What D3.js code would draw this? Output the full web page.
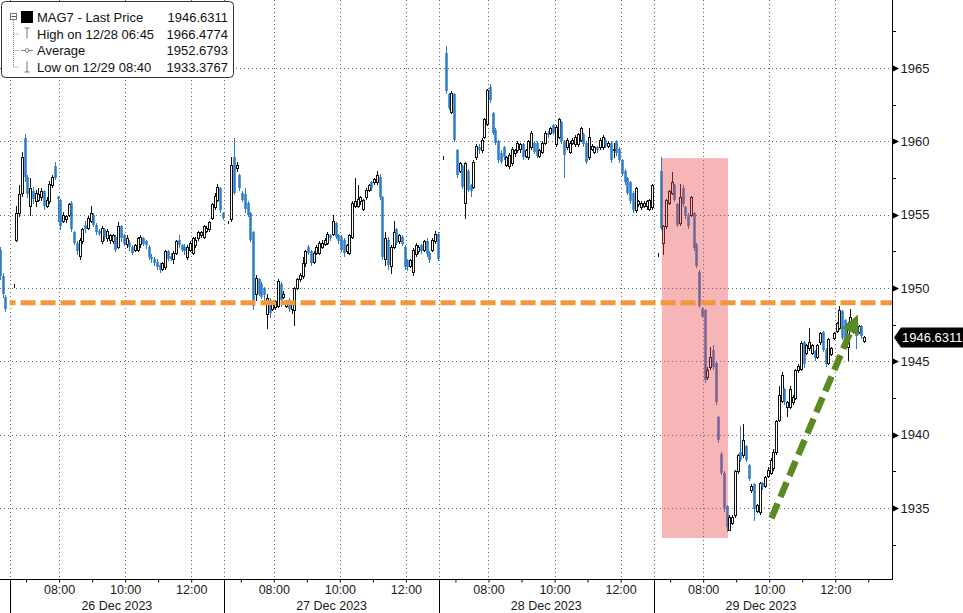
<!DOCTYPE html>
<html><head><meta charset="utf-8">
<script src="https://cdn.jsdelivr.net/npm/d3@7"></script>
<style>
html,body{margin:0;padding:0;background:#fff;}
svg{display:block;font-family:"Liberation Sans",Arial,sans-serif;}
</style></head><body>
<svg id="chart" width="963" height="613"></svg>
<script>
// ---------------- DATA ----------------
const dayLabels = ["26 Dec 2023", "27 Dec 2023", "28 Dec 2023", "29 Dec 2023"];
const hourTicks = ["07:00", "08:00", "09:00", "10:00", "11:00", "12:00", "13:00"];
const hourLabels = ["08:00", "10:00", "12:00"];
const gridHours = ["08:00", "10:00", "12:00"];
const sessionOpen = "06:30";
const barMinutes = 5;
const yTickValues = [1935, 1940, 1945, 1950, 1955, 1960, 1965];
const yMinorValues = [1932.5, 1937.5, 1942.5, 1947.5, 1952.5, 1957.5, 1962.5, 1967.5];

// tail of 22 Dec session: [open, high, low, close]
const dec22Times = ["12:40", "12:45", "12:50"];
const dec22Bars = [[1952.6,1952.8,1950.6,1950.8],[1950.8,1951.0,1949.4,1949.6],[1949.4,1949.5,1948.4,1948.6]];

// 5-minute bars from 06:30, [open, high, low, close]; null = no bar
const dec26Bars = [null,
[1950.2,1950.3,1950.1,1950.2],[1953.3,1955.6,1953.2,1955.1],[1955.1,1957.0,1954.9,1956.4],[1956.5,1959.3,1956.3,1958.9],
[1960.2,1960.5,1957.3,1957.6],[1957.6,1957.7,1956.2,1956.4],[1955.6,1957.5,1955.0,1956.8],[1956.6,1956.9,1955.8,1956.1],
[1955.9,1956.7,1955.6,1956.5],[1956.0,1956.8,1955.9,1956.4],[1956.2,1956.8,1956.0,1956.6],[1956.6,1956.7,1955.4,1955.6],
[1955.6,1956.2,1955.5,1956.0],[1955.9,1957.3,1955.8,1957.1],[1957.0,1957.7,1956.9,1957.6],[1958.3,1958.6,1957.4,1957.5],
[1956.2,1956.3,1954.6,1956.1],[1956.0,1956.1,1954.0,1954.2],[1954.6,1955.2,1954.5,1955.0],[1954.7,1955.0,1954.5,1954.9],
[1955.0,1955.8,1954.9,1955.7],[1955.8,1955.9,1953.9,1954.0],[1953.8,1953.9,1953.0,1953.1],[1953.1,1953.2,1952.3,1952.5],
[1952.2,1953.4,1952.0,1953.3],[1953.2,1954.1,1953.1,1954.0],[1954.3,1954.6,1953.8,1954.0],[1954.1,1954.9,1954.0,1954.8],
[1954.6,1955.6,1954.5,1955.1],[1955.0,1955.1,1954.2,1954.3],[1954.3,1954.4,1953.7,1953.8],[1953.9,1954.0,1953.6,1953.7],
[1953.2,1954.2,1953.1,1954.1],[1954.0,1954.1,1953.3,1953.5],[1953.4,1954.0,1953.2,1953.9],[1953.3,1953.7,1953.1,1953.6],
[1953.2,1953.7,1953.1,1953.6],[1953.5,1953.6,1952.5,1952.6],[1952.8,1954.5,1952.7,1954.2],[1954.2,1954.3,1953.2,1953.4],
[1953.6,1953.7,1952.9,1953.0],[1953.0,1953.6,1952.8,1953.4],[1953.1,1953.3,1952.6,1952.8],[1952.8,1952.9,1952.3,1952.4],
[1952.6,1953.0,1952.5,1952.9],[1952.6,1953.5,1952.5,1953.4],[1953.0,1953.6,1952.8,1953.5],[1953.4,1953.5,1952.9,1953.0],
[1953.2,1953.3,1952.7,1952.9],[1952.8,1952.9,1952.0,1952.1],[1952.1,1952.3,1951.8,1952.0],[1952.0,1952.1,1951.6,1951.7],
[1951.8,1952.0,1951.3,1951.4],[1951.6,1951.7,1951.1,1951.2],[1951.3,1951.8,1951.2,1951.7],[1951.4,1952.6,1951.3,1952.5],
[1952.5,1952.6,1951.9,1952.0],[1952.2,1952.4,1951.9,1952.0],[1952.0,1952.5,1951.7,1952.4],[1952.4,1953.3,1952.3,1953.2],
[1953.3,1953.6,1952.8,1952.9],[1952.9,1953.0,1952.5,1952.6],[1952.8,1953.0,1952.3,1952.5],[1952.1,1952.9,1952.0,1952.8],
[1952.6,1953.2,1952.5,1953.1],[1952.4,1953.5,1952.3,1953.4],[1952.9,1953.5,1952.8,1953.3],[1953.4,1953.9,1953.3,1953.8],
[1953.6,1953.9,1953.5,1953.8],[1953.5,1954.3,1953.4,1954.2],[1953.9,1954.2,1953.8,1954.1],[1954.0,1954.6,1953.9,1954.5],
[1954.8,1955.8,1954.7,1955.7],[1955.5,1956.5,1955.4,1956.3],[1956.0,1957.1,1955.9,1956.9],[1956.8,1956.9,1955.2,1955.3],
[1955.1,1955.2,1954.7,1954.8]];

const dec27Bars = [null,
[1954.5,1954.6,1954.4,1954.5],[1954.7,1958.9,1954.6,1958.4],[1958.9,1960.2,1956.4,1956.5],[1958.2,1958.6,1958.0,1958.4],
[1957.7,1957.8,1956.7,1956.8],[1956.5,1956.6,1955.9,1956.0],[1956.4,1956.8,1955.2,1955.4],[1955.8,1955.9,1954.9,1955.0],
[1955.1,1955.2,1953.2,1953.3],[1953.8,1953.9,1948.6,1948.8],[1949.6,1950.9,1949.2,1950.7],[1950.6,1950.7,1949.5,1949.6],
[1950.3,1950.4,1949.3,1949.4],[1950.0,1950.1,1948.9,1949.5],[1948.2,1949.6,1947.3,1949.3],[1949.2,1949.3,1948.0,1948.3],
[1948.6,1949.0,1948.5,1948.9],[1948.7,1949.2,1948.6,1949.1],[1948.8,1950.6,1948.7,1950.5],[1950.3,1950.4,1948.8,1949.2],
[1949.4,1949.8,1949.3,1949.6],[1948.8,1949.2,1948.7,1949.1],[1949.2,1949.3,1948.4,1948.6],[1948.6,1949.0,1948.3,1948.9],
[1948.5,1950.1,1947.5,1950.0],[1950.0,1950.7,1949.9,1950.6],[1950.6,1951.0,1950.5,1950.9],[1950.8,1952.1,1950.7,1951.7],
[1951.7,1952.6,1951.5,1952.5],[1952.8,1952.9,1952.3,1952.4],[1952.5,1952.6,1951.6,1951.7],[1951.8,1952.5,1951.7,1952.4],
[1952.4,1952.9,1952.3,1952.8],[1952.4,1953.2,1952.3,1953.1],[1952.8,1953.3,1952.7,1953.1],[1953.0,1953.4,1952.9,1953.3],
[1953.1,1953.8,1953.0,1953.7],[1953.6,1953.7,1953.3,1953.4],[1953.7,1955.0,1953.6,1954.6],[1954.4,1954.5,1953.4,1953.5],
[1953.6,1953.7,1953.1,1953.2],[1953.5,1953.6,1952.5,1952.6],[1953.3,1953.4,1952.2,1952.4],[1952.5,1953.0,1952.4,1952.9],
[1952.4,1953.7,1952.3,1953.6],[1953.5,1955.9,1953.4,1955.8],[1955.6,1957.5,1955.5,1955.9],[1955.6,1957.0,1955.5,1956.1],
[1955.9,1956.3,1955.7,1956.2],[1955.4,1956.1,1955.3,1956.0],[1956.2,1956.8,1956.1,1956.7],[1956.7,1957.1,1956.6,1957.0],
[1957.2,1957.3,1956.7,1956.8],[1957.2,1957.5,1957.1,1957.4],[1957.2,1958.0,1957.1,1957.7],[1957.6,1957.8,1956.1,1956.2],
[1956.2,1956.3,1952.0,1952.1],[1952.0,1953.8,1951.6,1953.4],[1953.3,1953.5,1951.3,1951.6],[1951.5,1952.9,1951.0,1952.8],
[1952.8,1954.6,1952.7,1953.8],[1954.0,1954.1,1953.0,1953.1],[1953.2,1953.7,1953.1,1953.6],[1953.5,1953.6,1952.9,1953.0],
[1952.8,1952.9,1951.3,1951.4],[1951.9,1952.0,1951.2,1951.4],[1951.5,1952.0,1951.4,1951.9],[1951.1,1952.7,1950.9,1952.6],
[1952.3,1953.1,1952.2,1952.9],[1952.5,1952.9,1952.4,1952.8],[1952.9,1953.0,1952.4,1952.5],[1952.6,1953.3,1952.5,1953.2],
[1953.2,1953.4,1952.2,1952.3],[1952.4,1952.5,1951.8,1951.9],[1952.6,1953.4,1952.5,1953.3],[1953.2,1953.9,1953.1,1953.7],
[1953.7,1953.8,1951.9,1952.0]];

const dec28Bars = [null,
[1958.9,1959.0,1958.8,1958.9],[1966.0,1966.5,1963.3,1963.4],[1963.2,1963.3,1962.2,1962.3],[1962.0,1963.4,1961.9,1963.3],
[1963.2,1963.3,1960.0,1960.1],[1959.4,1959.5,1957.6,1957.7],[1958.0,1958.6,1957.9,1958.5],[1958.3,1958.4,1956.8,1956.9],
[1955.8,1958.6,1954.8,1958.5],[1958.0,1958.1,1956.6,1956.7],[1957.0,1957.1,1956.3,1956.6],[1956.9,1958.7,1956.8,1958.6],
[1958.9,1959.8,1958.8,1959.7],[1959.6,1959.8,1959.2,1959.4],[1959.4,1960.2,1959.3,1960.1],[1960.3,1961.6,1960.2,1961.5],
[1961.2,1963.6,1961.1,1963.5],[1963.7,1963.9,1962.7,1962.8],[1961.9,1962.0,1960.5,1960.6],[1960.8,1960.9,1959.8,1959.9],
[1960.0,1960.1,1958.6,1958.7],[1959.2,1959.4,1958.5,1958.6],[1959.6,1959.7,1958.8,1958.9],[1958.4,1959.0,1958.3,1958.9],
[1958.3,1959.2,1958.2,1959.1],[1958.5,1959.6,1958.4,1959.5],[1959.2,1959.5,1959.0,1959.4],[1959.4,1960.0,1959.3,1959.9],
[1959.5,1959.9,1959.3,1959.8],[1959.8,1959.9,1958.8,1958.9],[1959.0,1959.5,1958.9,1959.4],[1958.9,1960.1,1958.8,1960.0],
[1959.6,1960.7,1959.5,1960.6],[1959.9,1960.0,1959.2,1959.3],[1959.9,1960.0,1958.9,1959.0],[1959.0,1959.5,1958.9,1959.4],
[1959.3,1960.0,1959.2,1959.9],[1959.9,1960.7,1959.8,1960.6],[1960.6,1960.7,1960.3,1960.4],[1960.6,1961.0,1960.5,1960.9],
[1961.1,1961.2,1960.5,1960.6],[1959.8,1961.1,1959.7,1961.0],[1960.3,1961.6,1960.2,1961.5],[1961.3,1961.4,1959.9,1960.0],
[1960.0,1960.1,1957.6,1959.1],[1959.6,1960.2,1959.5,1960.1],[1959.3,1960.0,1959.2,1959.9],[1959.9,1960.2,1959.8,1960.1],
[1959.8,1960.4,1959.7,1960.3],[1959.8,1960.6,1959.7,1960.5],[1960.1,1961.0,1960.0,1960.9],[1960.5,1960.6,1959.7,1959.8],
[1959.9,1960.0,1958.5,1958.6],[1958.9,1960.9,1958.8,1960.3],[1959.5,1959.8,1959.4,1959.7],[1959.3,1959.7,1959.2,1959.6],
[1959.6,1959.7,1959.3,1959.4],[1959.6,1960.2,1959.5,1960.1],[1959.6,1960.4,1959.5,1960.3],[1960.1,1960.2,1959.6,1959.7],
[1959.7,1960.0,1959.6,1959.9],[1959.9,1960.0,1958.6,1958.7],[1959.4,1959.9,1958.9,1959.5],[1960.0,1960.1,1959.1,1959.2],
[1959.5,1959.6,1958.6,1958.7],[1958.7,1958.8,1957.7,1957.8],[1958.0,1958.1,1957.1,1957.2],[1957.5,1957.6,1956.4,1956.5],
[1957.2,1957.3,1955.8,1955.9],[1956.5,1956.6,1955.2,1955.3],[1955.3,1956.9,1955.2,1956.8],[1955.7,1956.0,1955.6,1955.9],
[1955.5,1955.9,1955.4,1955.8],[1955.6,1955.9,1955.5,1955.8],[1955.6,1956.0,1955.4,1955.9],[1955.4,1956.1,1955.3,1956.0],
[1955.5,1957.1,1955.4,1957.0]];

const dec29Bars = [null,
[1952.3,1952.4,1952.2,1952.3],[1958.0,1958.9,1954.0,1954.1],[1953.1,1954.3,1952.3,1954.2],[1954.2,1956.1,1954.1,1956.0],
[1955.8,1956.7,1955.7,1956.6],[1956.5,1957.9,1956.4,1957.2],[1957.0,1957.1,1955.9,1956.0],[1955.7,1955.8,1954.2,1954.3],
[1954.4,1957.1,1954.3,1956.2],[1956.8,1957.0,1955.6,1955.7],[1955.5,1955.6,1954.8,1954.9],[1955.0,1955.1,1954.1,1954.2],
[1955.0,1956.3,1954.9,1956.2],[1955.1,1955.2,1952.6,1952.7],[1953.0,1953.1,1951.4,1951.5],[1951.1,1951.2,1948.7,1948.8],
[1948.6,1948.7,1948.0,1948.1],[1948.5,1948.6,1943.6,1943.7],[1943.9,1944.6,1943.8,1944.4],[1944.6,1946.0,1944.5,1945.3],
[1945.8,1946.1,1944.5,1944.6],[1944.9,1945.0,1942.1,1942.2],[1941.2,1941.3,1939.5,1939.6],[1938.7,1938.8,1937.3,1937.4],
[1937.4,1937.5,1934.8,1934.9],[1935.1,1935.2,1933.4,1933.7],[1933.5,1934.5,1933.5,1934.4],[1934.0,1934.5,1933.9,1934.4],
[1934.5,1937.6,1934.4,1937.5],[1937.5,1938.7,1937.4,1938.6],[1938.8,1940.6,1938.2,1938.3],[1938.6,1940.7,1938.5,1939.6],
[1939.2,1939.3,1938.2,1938.3],[1937.9,1938.0,1936.9,1937.0],[1936.2,1936.6,1936.1,1936.5],[1936.6,1936.7,1934.2,1934.9],
[1934.8,1935.3,1934.7,1935.2],[1934.7,1936.8,1934.6,1936.7],[1936.7,1936.8,1936.3,1936.4],[1936.5,1937.2,1936.4,1937.1],
[1937.2,1937.8,1937.1,1937.6],[1937.4,1938.4,1937.3,1938.3],[1937.7,1939.0,1937.6,1938.8],[1938.8,1941.0,1938.7,1940.9],
[1941.0,1943.3,1940.9,1942.7],[1942.3,1944.3,1942.2,1944.1],[1943.1,1943.2,1942.1,1942.2],[1941.9,1942.3,1941.3,1942.2],
[1941.9,1943.3,1941.8,1943.1],[1942.2,1942.7,1942.1,1942.6],[1942.5,1944.5,1942.4,1944.4],[1944.4,1944.8,1944.3,1944.7],
[1944.5,1946.4,1944.4,1946.25],[1946.3,1946.4,1944.6,1944.8],[1945.6,1946.2,1945.5,1946.1],[1945.9,1947.3,1945.8,1946.3],
[1945.6,1946.2,1945.5,1946.1],[1945.7,1945.8,1945.1,1945.2],[1945.3,1946.2,1945.2,1946.1],[1946.3,1947.0,1946.2,1946.9],
[1947.0,1947.1,1945.7,1945.8],[1945.8,1945.9,1944.7,1944.8],[1944.9,1946.6,1944.8,1946.5],[1945.5,1946.0,1945.4,1945.9],
[1946.6,1947.0,1946.5,1946.9],[1947.1,1947.7,1947.0,1947.6],[1947.3,1948.8,1947.2,1948.5],[1948.4,1948.5,1946.5,1946.6],
[1947.8,1947.9,1945.9,1946.0],[1946.0,1947.7,1945.1,1947.6],[1947.6,1948.6,1947.5,1948.0],[1947.6,1947.7,1946.9,1947.0],
[1947.7,1947.8,1945.9,1946.7],[1947.0,1947.5,1946.9,1947.4],[1947.4,1947.5,1946.6,1946.7],[1946.4,1946.7,1946.3,1946.6311],
null];

const legendNames = ["MAG7 - Last Price", "High on 12/28 06:45", "Average", "Low on 12/29 08:40"];
const legendValues = ["1946.6311", "1966.4774", "1952.6793", "1933.3767"];
const lastPrice = 1946.6311;
const refLevel = 1949.0;                 // orange dashed level
const boxTimes = ["06:45", "08:45"];     // highlight on 29 Dec
const boxValues = [1958.85, 1932.95];
const arrowTimes = ["10:04", "12:41"];   // green arrow on 29 Dec
const arrowValues = [1934.3, 1948.2];

// ---------------- SETUP ----------------
const W = 963, H = 613;
const plotRight = 892, plotBottom = 579.5;
const sessionLen = 390;
const blue = "#2b7bc8";
const FONT = "'Liberation Sans',Arial,sans-serif";
const svg = d3.select("#chart");

const toMin = s => { const [h, m] = s.split(":").map(Number); return h * 60 + m; };
const sessT = (dayIdx, hhmm) => dayIdx * sessionLen + toMin(hhmm) - toMin(sessionOpen);

const x = d3.scaleLinear().domain([-17.3, 1603]).range([0, plotRight]);
const y = d3.scaleLinear().domain([1930.12, 1969.64]).range([plotBottom, 0]);

svg.append("defs").append("clipPath").attr("id", "plotclip")
  .append("rect").attr("x", 0).attr("y", 0).attr("width", plotRight).attr("height", plotBottom);

// ---------------- GRID ----------------
const grid = svg.append("g");
grid.selectAll("line.h").data(yTickValues).join("line")
  .attr("x1", 0).attr("x2", plotRight)
  .attr("y1", d => Math.round(y(d)) + 0.5).attr("y2", d => Math.round(y(d)) + 0.5)
  .attr("stroke", "#666").attr("stroke-dasharray", "1,3");
const vGrid = [];
dayLabels.forEach((d, i) => {
  vGrid.push(sessT(i, sessionOpen));
  gridHours.forEach(h => vGrid.push(sessT(i, h)));
});
grid.selectAll("line.v").data(vGrid).join("line")
  .attr("x1", d => Math.round(x(d)) + 0.5).attr("x2", d => Math.round(x(d)) + 0.5)
  .attr("y1", 0).attr("y2", plotBottom)
  .attr("stroke", "#666").attr("stroke-dasharray", "1,3");

// ---------------- CANDLES ----------------
const allBars = [];
dec22Times.forEach((t, i) => allBars.push({ t: sessT(-1, t) + barMinutes / 2, b: dec22Bars[i] }));
[dec26Bars, dec27Bars, dec28Bars, dec29Bars].forEach((arr, di) => {
  arr.forEach((b, k) => { if (b) allBars.push({ t: di * sessionLen + k * barMinutes + barMinutes / 2, b }); });
});

const cg = svg.append("g").attr("clip-path", "url(#plotclip)");
allBars.forEach(({ t, b }) => {
  const [o, h, l, c] = b;
  const cx = Math.round(x(t));
  const up = c >= o;
  const col = up ? "#111" : blue;
  cg.append("line")
    .attr("x1", cx + 0.5).attr("x2", cx + 0.5)
    .attr("y1", Math.round(y(h))).attr("y2", Math.round(y(l)) + 1)
    .attr("stroke", col).attr("stroke-width", 1);
  const yt = Math.round(y(Math.max(o, c))), yb = Math.round(y(Math.min(o, c)));
  if (up) {
    cg.append("rect").attr("x", cx - 0.5).attr("y", yt + 0.5)
      .attr("width", 2).attr("height", Math.max(yb - yt, 0))
      .attr("fill", "#fff").attr("stroke", "#111").attr("stroke-width", 1);
  } else {
    cg.append("rect").attr("x", cx - 0.75).attr("y", yt)
      .attr("width", 2.5).attr("height", Math.max(yb - yt, 1))
      .attr("fill", blue);
  }
});

// ---------------- ANNOTATIONS ----------------
const bx0 = x(sessT(3, boxTimes[0])), bx1 = x(sessT(3, boxTimes[1]));
svg.append("rect")
  .attr("x", bx0).attr("y", y(boxValues[0]))
  .attr("width", bx1 - bx0).attr("height", y(boxValues[1]) - y(boxValues[0]))
  .attr("fill", "rgb(232,60,62)").attr("fill-opacity", 0.38);

svg.append("line")
  .attr("x1", x(sessT(0, sessionOpen))).attr("x2", plotRight)
  .attr("y1", y(refLevel)).attr("y2", y(refLevel))
  .attr("stroke", "#f0983a").attr("stroke-width", 5)
  .attr("stroke-dasharray", "15,5").attr("stroke-dashoffset", 9);

(function () {
  const ax0 = x(sessT(3, arrowTimes[0])), ay0 = y(arrowValues[0]);
  const ax1 = x(sessT(3, arrowTimes[1])), ay1 = y(arrowValues[1]);
  const dx = ax1 - ax0, dy = ay1 - ay0, len = Math.hypot(dx, dy);
  const ux = dx / len, uy = dy / len, px = -uy, py = ux;
  const headL = 19, headW = 9;
  const bxc = ax1 - ux * headL, byc = ay1 - uy * headL;
  const green = "#5a8a22";
  svg.append("line")
    .attr("x1", ax0).attr("y1", ay0).attr("x2", bxc + ux * 2).attr("y2", byc + uy * 2)
    .attr("stroke", green).attr("stroke-width", 6.5)
    .attr("stroke-dasharray", "16,7");
  svg.append("path")
    .attr("d", `M${ax1},${ay1}L${bxc + px * headW},${byc + py * headW}L${bxc - px * headW},${byc - py * headW}Z`)
    .attr("fill", green);
})();

// ---------------- AXES ----------------
// right y axis
const yAxisG = svg.append("g").attr("transform", `translate(${plotRight + 0.5},0)`)
  .call(d3.axisRight(y).tickValues(yTickValues).tickSize(0).tickPadding(8).tickFormat(d3.format("d")));
yAxisG.select(".domain").remove();
yAxisG.selectAll("text").attr("font-size", 13).attr("fill", "#1a1a1a").attr("font-family", FONT);
svg.append("line").attr("x1", plotRight + 0.5).attr("x2", plotRight + 0.5)
  .attr("y1", 0).attr("y2", plotBottom + 0.5).attr("stroke", "#000");
svg.selectAll("path.ytri").data(yTickValues).join("path")
  .attr("d", d => { const yy = Math.round(y(d)) + 0.5; return `M${plotRight},${yy - 3.5}L${plotRight + 7},${yy}L${plotRight},${yy + 3.5}Z`; })
  .attr("fill", "#000");
svg.selectAll("line.ymin").data(yMinorValues).join("line")
  .attr("x1", plotRight).attr("x2", plotRight + 4)
  .attr("y1", d => Math.round(y(d)) + 0.5).attr("y2", d => Math.round(y(d)) + 0.5)
  .attr("stroke", "#000");

// bottom time axis
const tickTs = [];
dayLabels.forEach((d, i) => hourTicks.forEach(h => {
  if (h !== "13:00" || i === dayLabels.length - 1) tickTs.push({ t: sessT(i, h), h });
}));
const xAxisG = svg.append("g").attr("transform", `translate(0,${plotBottom})`)
  .call(d3.axisBottom(x).tickValues(tickTs.map(d => d.t)).tickSize(3).tickPadding(2)
    .tickFormat((d, i) => hourLabels.includes(tickTs[i].h) ? tickTs[i].h : ""));
xAxisG.select(".domain").remove();
xAxisG.selectAll("text").attr("font-size", 12.5).attr("fill", "#1a1a1a")
  .attr("font-family", FONT).attr("dy", "0.72em");
xAxisG.selectAll(".tick line").attr("stroke", "#000");
svg.append("line").attr("x1", 0).attr("x2", plotRight + 0.5)
  .attr("y1", plotBottom).attr("y2", plotBottom).attr("stroke", "#000");
// day separators + date labels
dayLabels.forEach((lab, i) => {
  const xs = Math.round(x(sessT(i, sessionOpen))) + 0.5;
  svg.append("line").attr("x1", xs).attr("x2", xs).attr("y1", plotBottom).attr("y2", H).attr("stroke", "#000");
  const xm = (x(sessT(i, sessionOpen)) + x(sessT(i + 1, sessionOpen))) / 2;
  svg.append("text").attr("x", xm).attr("y", 609.5).attr("text-anchor", "middle")
    .attr("font-size", 12.5).attr("fill", "#1a1a1a").text(lab);
});

// last price tag
(function () {
  const yy = y(lastPrice);
  svg.append("path")
    .attr("d", `M${plotRight + 2},${yy}L${plotRight + 9},${yy - 10}L${W},${yy - 10}L${W},${yy + 10}L${plotRight + 9},${yy + 10}Z`)
    .attr("fill", "#000");
  svg.append("text").attr("x", plotRight + 10).attr("y", yy + 4.5)
    .attr("font-size", 13).attr("fill", "#fff").text(d3.format(".4f")(lastPrice));
})();

// ---------------- LEGEND ----------------
const lg = svg.append("g");
lg.append("rect").attr("x", 1.5).attr("y", 1.5).attr("width", 232).attr("height", 76).attr("rx", 4)
  .attr("fill", "#fff").attr("stroke", "#333");
const rowY = [17, 33.5, 50, 66.5];
// tree lines
lg.append("line").attr("x1", 13.5).attr("x2", 13.5).attr("y1", 20).attr("y2", rowY[3])
  .attr("stroke", "#888").attr("stroke-dasharray", "1,1");
rowY.slice(1).forEach(ry => lg.append("line").attr("x1", 13.5).attr("x2", 19).attr("y1", ry + 0.5).attr("y2", ry + 0.5)
  .attr("stroke", "#888").attr("stroke-dasharray", "1,1"));
lg.append("rect").attr("x", 10.5).attr("y", 13.5).attr("width", 6).attr("height", 6).attr("fill", "#fff").attr("stroke", "#777");
lg.append("line").attr("x1", 11.5).attr("x2", 16).attr("y1", 16.5).attr("y2", 16.5).attr("stroke", "#555");
lg.append("rect").attr("x", 21).attr("y", 11).attr("width", 12).attr("height", 12).attr("fill", "#000");
// high icon
lg.append("path").attr("d", `M24.5,${rowY[1] - 5.5}H29.5M27,${rowY[1] - 5.5}V${rowY[1] + 5}`).attr("stroke", "#777").attr("fill", "none");
// average icon
lg.append("line").attr("x1", 21).attr("x2", 33).attr("y1", rowY[2] + 0.5).attr("y2", rowY[2] + 0.5).attr("stroke", "#888");
lg.append("circle").attr("cx", 27).attr("cy", rowY[2] + 0.5).attr("r", 1.8).attr("fill", "#fff").attr("stroke", "#777");
// low icon
lg.append("path").attr("d", `M27,${rowY[3] - 5}V${rowY[3] + 5.5}M24.5,${rowY[3] + 5.5}H29.5`).attr("stroke", "#777").attr("fill", "none");
legendNames.forEach((n, i) => {
  lg.append("text").attr("x", 37).attr("y", rowY[i] + 5).attr("font-size", 13).attr("fill", "#111").text(n);
  lg.append("text").attr("x", 228).attr("y", rowY[i] + 5).attr("font-size", 13).attr("text-anchor", "end")
    .attr("fill", "#111").text(legendValues[i]);
});
</script>
</body></html>
